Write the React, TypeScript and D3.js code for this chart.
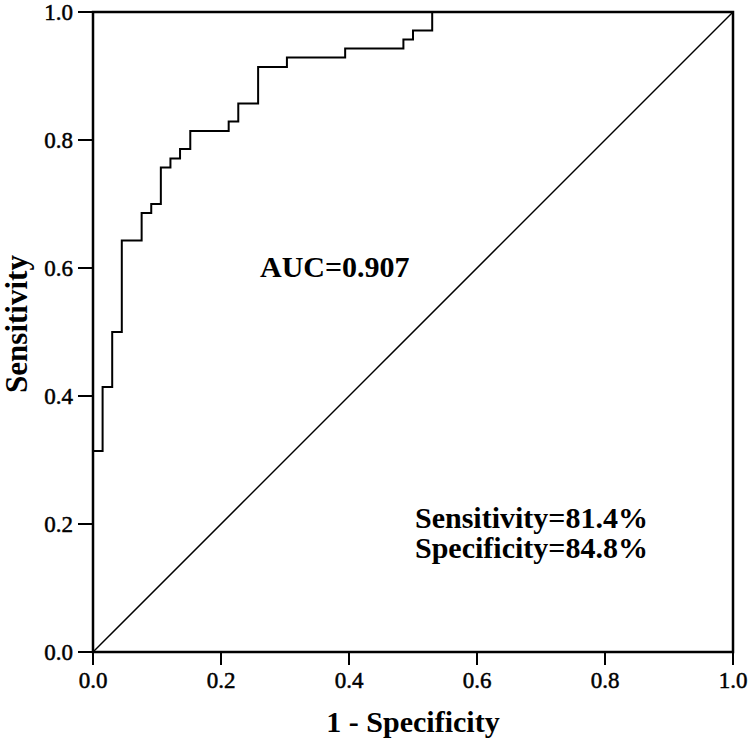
import React from "react";
import * as d3 from "d3";

// ROC step vertices (1 - specificity, sensitivity)
const fprValues = [0, 0, 0.015, 0.030, 0.045, 0.076, 0.091, 0.106, 0.121, 0.136, 0.152, 0.212, 0.227, 0.258, 0.303, 0.394, 0.485, 0.5, 0.530, 1.0];
const tprValues = [0, 0.314, 0.414, 0.5, 0.643, 0.686, 0.700, 0.757, 0.771, 0.786, 0.814, 0.829, 0.857, 0.914, 0.929, 0.943, 0.957, 0.971, 1.0, 1.0];
const tickValues = [0, 0.2, 0.4, 0.6, 0.8, 1.0];
const aucLabel = "AUC=0.907";
const statLabels = ["Sensitivity=81.4%", "Specificity=84.8%"];
const xTitle = "1 - Specificity";
const yTitle = "Sensitivity";

const W = 750;
const H = 747;
const left = 93, right = 733, top = 12, bottom = 652;
const font = "'Liberation Serif', 'Times New Roman', serif";

export default function App() {
  const x = d3.scaleLinear().domain([0, 1]).range([left, right]);
  const y = d3.scaleLinear().domain([0, 1]).range([bottom, top]);
  const pts: [number, number][] = fprValues.map((f, i) => [f, tprValues[i]]);
  const line = d3
    .line<[number, number]>()
    .x((d) => x(d[0]))
    .y((d) => y(d[1]))
    .curve(d3.curveStepAfter);
  const diag = d3.line<[number, number]>().x((d) => x(d[0])).y((d) => y(d[1]));

  return (
    <svg
      width={W}
      height={H}
      style={{ position: "absolute", left: 0, top: 0, background: "#fff" }}
      fontFamily={font}
    >
      <rect x={0} y={0} width={W} height={H} fill="#fff" />
      {/* diagonal reference */}
      <path d={diag([[0, 0], [1, 1]]) || ""} stroke="#000" strokeWidth={1.5} fill="none" />
      {/* ROC curve */}
      <path d={line(pts) || ""} stroke="#000" strokeWidth={2} fill="none" />
      {/* frame */}
      <rect x={left} y={top} width={right - left} height={bottom - top} fill="none" stroke="#000" strokeWidth={2.5} />
      {/* x ticks */}
      {tickValues.map((t) => (
        <g key={"x" + t}>
          <line x1={x(t)} x2={x(t)} y1={bottom} y2={bottom + 13} stroke="#000" strokeWidth={2} />
          <text x={x(t)} y={bottom + 36} textAnchor="middle" fontSize={23} fill="#000" stroke="#000" strokeWidth={0.5}>
            {t.toFixed(1)}
          </text>
        </g>
      ))}
      {/* y ticks */}
      {tickValues.map((t) => (
        <g key={"y" + t}>
          <line x1={left - 15} x2={left} y1={y(t)} y2={y(t)} stroke="#000" strokeWidth={2} />
          <text x={left - 20} y={y(t)} dy="0.35em" textAnchor="end" fontSize={23} fill="#000" stroke="#000" strokeWidth={0.5}>
            {t.toFixed(1)}
          </text>
        </g>
      ))}
      {/* axis titles */}
      <text x={(left + right) / 2} y={732} textAnchor="middle" fontSize={30} fontWeight="bold" fill="#000">
        {xTitle}
      </text>
      <text
        transform={`translate(27, ${(top + bottom) / 2 - 8}) rotate(-90)`}
        textAnchor="middle"
        fontSize={31}
        fontWeight="bold"
        fill="#000"
      >
        {yTitle}
      </text>
      {/* annotations */}
      <text x={260} y={277} fontSize={30} fontWeight="bold" fill="#000">
        {aucLabel}
      </text>
      {statLabels.map((s, i) => (
        <text key={s} x={415} y={528 + i * 30} fontSize={30} fontWeight="bold" fill="#000">
          {s}
        </text>
      ))}
    </svg>
  );
}
